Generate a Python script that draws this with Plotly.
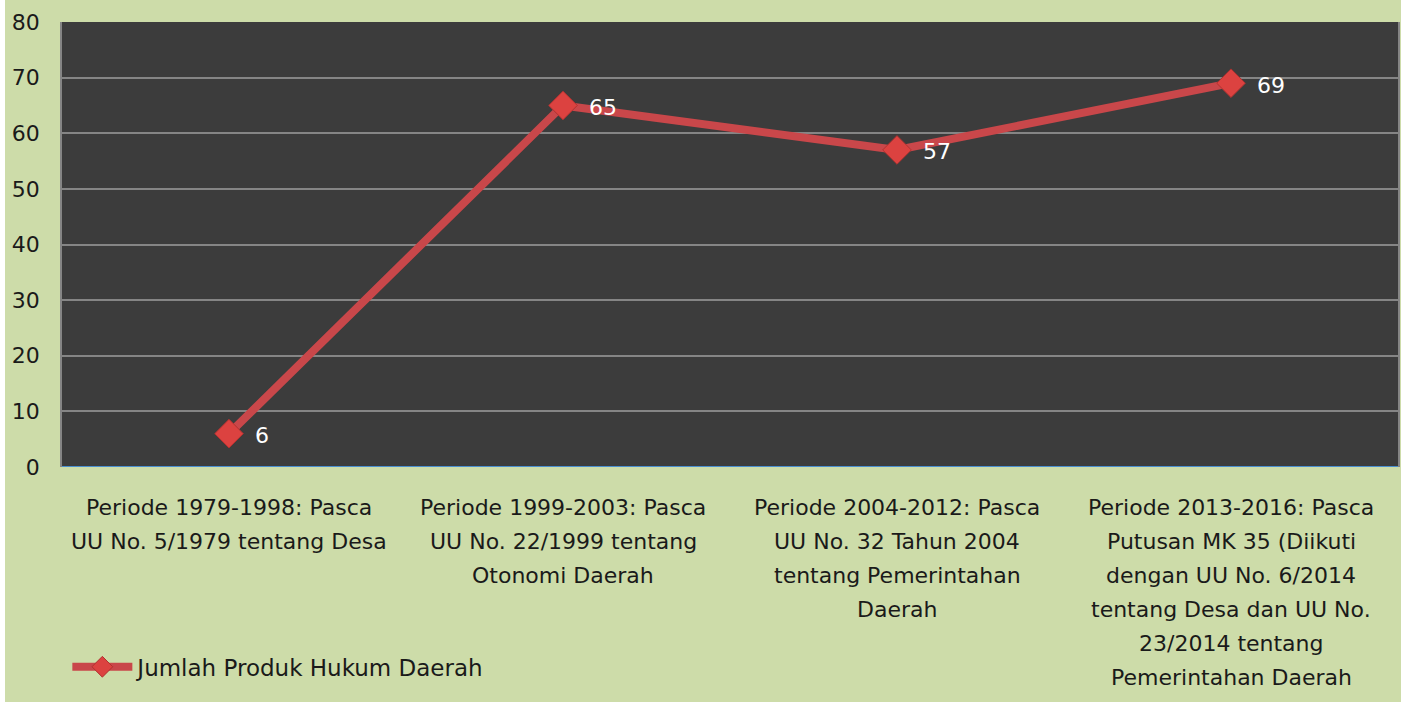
import plotly.graph_objects as go

categories = [
    "Periode 1979-1998: Pasca<br>UU No. 5/1979 tentang Desa",
    "Periode 1999-2003: Pasca<br>UU No. 22/1999 tentang<br>Otonomi Daerah",
    "Periode 2004-2012: Pasca<br>UU No. 32 Tahun 2004<br>tentang Pemerintahan<br>Daerah",
    "Periode 2013-2016: Pasca<br>Putusan MK 35 (Diikuti<br>dengan UU No. 6/2014<br>tentang Desa dan UU No.<br>23/2014 tentang<br>Pemerintahan Daerah",
]
values = [6, 65, 57, 69]
series_name = "Jumlah Produk Hukum Daerah"
y_ticks = [0, 10, 20, 30, 40, 50, 60, 70, 80]

GREEN = "#cddca9"
PLOT = "#3c3c3c"
RED = "#c9474a"
FONT = "DejaVu Sans"
TXT = "#1a1a1a"

fig = go.Figure()
fig.add_trace(go.Scatter(
    x=categories, y=values, name=series_name,
    mode="lines+markers",
    line=dict(color=RED, width=8),
    marker=dict(symbol="diamond", size=22, color="#dc4240",
                line=dict(color="#b03230", width=1)),
))
for c, v in zip(categories, values):
    fig.add_annotation(x=c, y=v, text=str(v), showarrow=False,
                       xanchor="left", yanchor="middle", xshift=24, yshift=-2,
                       font=dict(color="white", size=22, family=FONT))

# category labels: wrapped lines with the reference's wider line spacing
for c in categories:
    for i, line in enumerate(c.split("<br>")):
        fig.add_annotation(x=c, y=0, xref="x", yref="paper", text=line,
                           showarrow=False, xanchor="center", yanchor="middle",
                           yshift=-(40 + 34 * i),
                           font=dict(color=TXT, size=22, family=FONT))

fig.update_layout(
    width=1396, height=702,
    paper_bgcolor=GREEN, plot_bgcolor=PLOT,
    margin=dict(l=57, r=3, t=22, b=235),
    font=dict(family=FONT, size=22, color=TXT),
    showlegend=True,
    legend=dict(orientation="h", x=0.004, xanchor="left", y=-0.449, yanchor="middle",
                bgcolor="rgba(0,0,0,0)", font=dict(size=23, family=FONT, color=TXT),
                itemwidth=60),
    xaxis=dict(range=[-0.5, 3.5], showgrid=False, showticklabels=False,
               ticks="", showline=False, zeroline=False, automargin=False),
    yaxis=dict(range=[0, 80], tickvals=y_ticks, showgrid=True, gridcolor="#858585",
               gridwidth=1.5, zeroline=False, showline=True, mirror=True,
               linecolor="#858585", linewidth=1.5, ticks="",
               ticklabelstandoff=16, automargin=False,
               tickfont=dict(size=22, family=FONT, color=TXT)),
)
fig.add_shape(type="line", xref="paper", yref="y", x0=0, x1=1, y0=0, y1=0,
              line=dict(color="#4a8fd0", width=2))
fig.write_html(
    "out.html", config={"displayModeBar": False},
    post_script=("document.body.style.margin='0';document.body.style.overflow='hidden';"
                 "document.body.style.background='#ffffff';"
                 "var g=document.getElementsByClassName('plotly-graph-div')[0];"
                 "g.style.marginLeft='5px';"),
)
